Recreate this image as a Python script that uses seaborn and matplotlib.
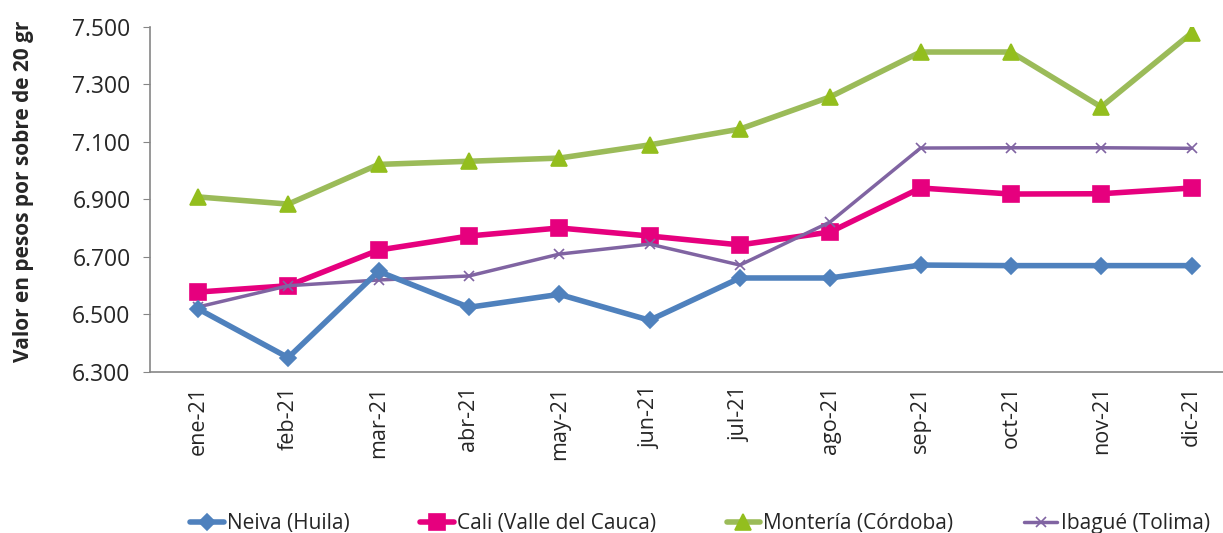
import numpy as np
import pandas as pd
import matplotlib.pyplot as plt
import matplotlib.ticker as mticker
import seaborn as sns

# Data (pesos per 20 g envelope)
meses = ["ene-21", "feb-21", "mar-21", "abr-21", "may-21", "jun-21",
         "jul-21", "ago-21", "sep-21", "oct-21", "nov-21", "dic-21"]
neiva = [6520, 6350, 6650, 6525, 6570, 6480, 6627, 6627, 6672, 6670, 6670, 6670]
cali = [6578, 6600, 6724, 6773, 6801, 6773, 6742, 6787, 6940, 6919, 6920, 6940]
monteria = [6909, 6884, 7022, 7033, 7044, 7090, 7145, 7257, 7413, 7413, 7222, 7479]
ibague = [6526, 6600, 6620, 6634, 6710, 6745, 6672, 6822, 7079, 7080, 7080, 7078]
ciudades = ["Neiva (Huila)", "Cali (Valle del Cauca)",
            "Montería (Córdoba)", "Ibagué (Tolima)"]

df = pd.DataFrame({"mes": meses * 4,
                   "valor": neiva + cali + monteria + ibague,
                   "ciudad": np.repeat(ciudades, len(meses))})
df["x"] = np.tile(np.arange(len(meses)), 4)

sns.set_style("white")
plt.rcParams['font.family'] = ['Open Sans', 'DejaVu Sans']

colores = ["#4F81BD", "#E6007E", "#9BBB59", "#8064A2"]
marcas = ["D", "s", "^", "x"]
tam = [8, 12, 11, 7]
grosor = [4, 4, 4, 2.5]
mcol = ["#4F81BD", "#E6007E", "#93BE1E", "#8064A2"]

fig = plt.figure(figsize=(12.23, 5.33), dpi=100)
ax = fig.add_axes([150 / 1223, 1 - 372 / 533, 1084 / 1223, 345 / 533])

for i, c in enumerate(ciudades):
    sub = df[df["ciudad"] == c]
    sns.lineplot(data=sub, x="x", y="valor", ax=ax, color=colores[i],
                 linewidth=grosor[i], marker=marcas[i], markersize=tam[i],
                 markerfacecolor=mcol[i], markeredgecolor=mcol[i],
                 markeredgewidth=1.2, label=c, zorder=3 + (i == 0))

ax.set_xlim(-0.53, 11.47)
ax.set_ylim(6300, 7500)
ax.set_yticks(np.arange(6300, 7501, 200))
ax.yaxis.set_major_formatter(mticker.FuncFormatter(
    lambda v, p: f"{int(v):,}".replace(",", ".")))
ax.set_xticks(range(len(meses)))
ax.set_xticklabels(meses, rotation=90, fontsize=15.5)
ax.tick_params(axis="y", labelsize=16.5, length=5, color="#868686",
               direction="out", left=True, pad=9)
ax.tick_params(axis="x", length=0, pad=10)
for s in ["top", "right"]:
    ax.spines[s].set_visible(False)
for s in ["left", "bottom"]:
    ax.spines[s].set_color("#868686")
    ax.spines[s].set_linewidth(1.2)
ax.set_xlabel("")
ax.set_ylabel("Valor en pesos por sobre de 20 gr", fontsize=15,
              fontweight="bold")
ax.yaxis.set_label_coords(-0.107, 0.525)

ax.legend(loc="center", bbox_to_anchor=(700 / 1223, 9 / 533),
          bbox_transform=fig.transFigure, ncol=4, frameon=False,
          fontsize=15, handlelength=1.6, columnspacing=3.4,
          handletextpad=0.15)

fig.savefig("out.png", dpi=100)
